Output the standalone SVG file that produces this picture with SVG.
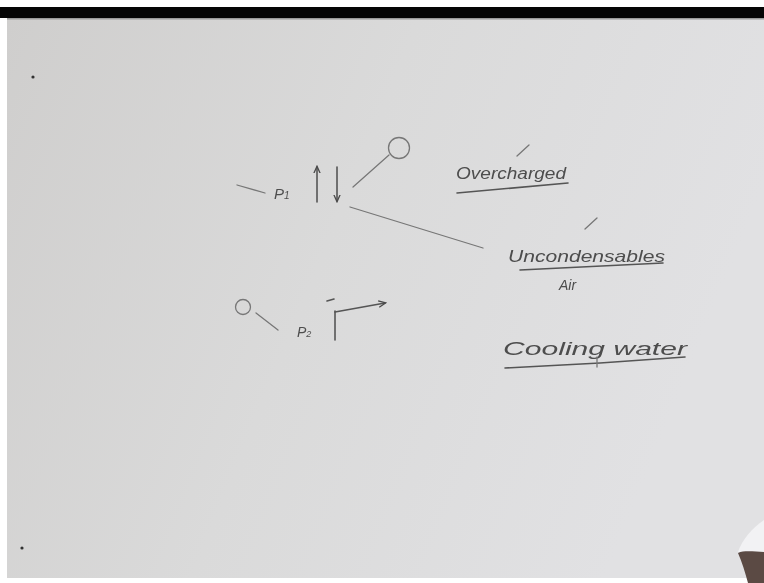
<svg xmlns="http://www.w3.org/2000/svg" width="764" height="583" viewBox="0 0 764 583">
<defs>
<linearGradient id="bg" x1="0" y1="0" x2="1" y2="0.3">
<stop offset="0" stop-color="#cfcecd"/>
<stop offset="0.5" stop-color="#dadada"/>
<stop offset="1" stop-color="#e1e1e3"/>
</linearGradient>
<marker id="ah" viewBox="0 0 10 10" refX="8" refY="5" markerWidth="5" markerHeight="5" orient="auto-start-reverse">
<path d="M0,1 L9,5 L0,9" fill="none" stroke="#4a4a4a" stroke-width="1.6"/>
</marker>
<filter id="soft"><feGaussianBlur stdDeviation="0.5"/></filter>
<style>
.ink{stroke:#555;stroke-width:1.6;fill:none;stroke-linecap:round}
.lt{stroke:#777;stroke-width:1.3;fill:none;stroke-linecap:round}
.hw{font-family:"Liberation Sans",Arial,sans-serif;fill:#4d4d4d;font-style:italic}
</style>
</defs>
<rect width="764" height="583" fill="#ffffff"/>
<rect x="0" y="7" width="764" height="11" fill="#050505"/>
<rect x="7" y="18" width="757" height="560" fill="url(#bg)"/>
<rect x="7" y="18" width="757" height="1.5" fill="#9a9a9a"/>
<g id="hand">
<path d="M764,520 C752,528 742,540 738,552 L750,556 L764,553 Z" fill="#f2f2f4"/>
<path d="M738,553 C745,550 755,552 764,552 L764,583 L748,583 C745,572 742,562 738,553 Z" fill="#5b4a44"/>
</g>
<g filter="url(#soft)">
<circle cx="33" cy="77" r="1.6" fill="#333"/>
<circle cx="22" cy="548" r="1.6" fill="#333"/>
<g id="p1">
<path class="lt" d="M237,185 L265,193"/>
<text class="hw" x="274" y="199" font-size="15">P<tspan font-size="10">1</tspan></text>
</g>
<g id="arrows1">
<line class="ink" x1="317" y1="202" x2="317" y2="167" marker-end="url(#ah)"/>
<line class="ink" x1="337" y1="167" x2="337" y2="201" marker-end="url(#ah)"/>
</g>
<g id="ball1">
<path class="lt" d="M353,187 L389,155"/>
<circle class="lt" cx="399" cy="148" r="10.5"/>
</g>
<g id="connectors">
<path class="lt" d="M350,207 L483,248"/>
</g>
<g id="overcharged">
<path class="lt" d="M517,156 L529,145"/>
<text class="hw" x="456" y="179" font-size="16" textLength="110" lengthAdjust="spacingAndGlyphs">Overcharged</text>
<path class="ink" d="M457,193 L568,183"/>
</g>
<g id="uncondensables">
<path class="lt" d="M585,229 L597,218"/>
<text class="hw" x="508" y="262" font-size="17" textLength="157" lengthAdjust="spacingAndGlyphs">Uncondensables</text>
<path class="ink" d="M520,270 L663,263"/>
<text class="hw" x="559" y="290" font-size="14">Air</text>
</g>
<g id="p2">
<circle class="lt" cx="243" cy="307" r="7.5"/>
<path class="lt" d="M256,313 L278,330"/>
<text class="hw" x="297" y="337" font-size="14">P<tspan font-size="9">2</tspan></text>
<path class="ink" d="M327,301 L334,299"/>
<path class="ink" d="M335,311 L335,340"/>
<line class="ink" x1="335" y1="312" x2="385" y2="303" marker-end="url(#ah)"/>
</g>
<g id="cooling">
<text class="hw" x="503" y="355" font-size="18" textLength="184" lengthAdjust="spacingAndGlyphs">Cooling water</text>
<path class="ink" d="M505,368 L600,363 L685,357"/>
<path class="lt" d="M597,357 L597,367"/>
</g>
</g>
</svg>
